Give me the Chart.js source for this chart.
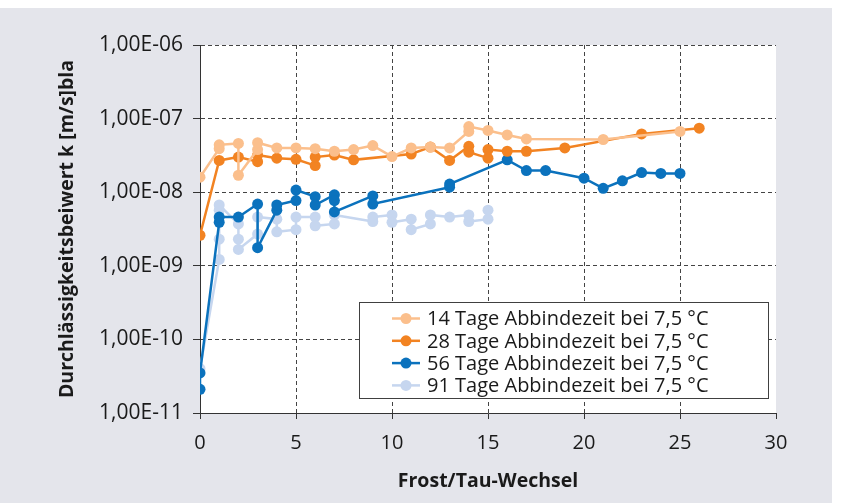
<!DOCTYPE html>
<html>
<head>
<meta charset="utf-8">
<script src="https://cdn.jsdelivr.net/npm/chart.js@4.4.1/dist/chart.umd.min.js"></script>
<style>
  html, body { margin: 0; padding: 0; background: #fff; }
  #wrap { width: 846px; height: 503px; }
</style>
</head>
<body>
<div id="wrap"><canvas id="chartFrostTau" width="846" height="503"></canvas></div>
<script>
// Durchlässigkeit nach Frost/Tau-Wechseln, je Abbindezeit
const seriesLabels = [
  '14 Tage Abbindezeit bei 7,5 °C',
  '28 Tage Abbindezeit bei 7,5 °C',
  '56 Tage Abbindezeit bei 7,5 °C',
  '91 Tage Abbindezeit bei 7,5 °C'
]

const frost14 = [0, 1, 1, 2, 2, 3, 3, 4, 5, 6, 7, 8, 9, 10, 11, 12, 13, 14, 14, 15, 16, 17, 21, 25]
const k14 = [1.6e-8, 3.9e-8, 4.4e-8, 4.6e-8, 1.7e-8, 3.8e-8, 4.7e-8, 4.0e-8, 4.0e-8, 3.9e-8, 3.6e-8, 3.8e-8,
             4.3e-8, 3.05e-8, 4.0e-8, 4.1e-8, 4.0e-8, 6.7e-8, 7.8e-8, 6.9e-8, 6.0e-8, 5.3e-8, 5.2e-8, 6.7e-8]

const frost28 = [0, 1, 2, 3, 3, 4, 5, 6, 6, 7, 8, 11, 12, 13, 14, 14, 15, 15, 16, 17, 19, 23, 26]
const k28 = [2.6e-9, 2.7e-8, 3.0e-8, 2.6e-8, 3.2e-8, 2.9e-8, 2.8e-8, 2.3e-8, 3.0e-8, 3.2e-8, 2.75e-8, 3.3e-8,
             4.1e-8, 2.7e-8, 4.2e-8, 3.5e-8, 2.9e-8, 3.8e-8, 3.6e-8, 3.6e-8, 4.0e-8, 6.2e-8, 7.4e-8]

const frost56 = [0, 0, 1, 1, 2, 3, 3, 4, 4, 5, 5, 6, 6, 7, 7, 7, 9, 9, 13, 13, 16, 17, 18, 20, 21, 22, 23, 24, 25]
const k56 = [2.1e-11, 3.5e-11, 3.9e-9, 4.6e-9, 4.6e-9, 6.9e-9, 1.76e-9, 5.7e-9, 6.7e-9, 7.7e-9, 1.07e-8, 8.7e-9,
             6.7e-9, 9.2e-9, 7.7e-9, 5.4e-9, 8.9e-9, 6.9e-9, 1.17e-8, 1.29e-8, 2.75e-8, 1.97e-8, 1.97e-8, 1.55e-8,
             1.13e-8, 1.43e-8, 1.85e-8, 1.8e-8, 1.8e-8]

const frost91 = [0, 1, 1, 1, 1, 2, 2, 2, 3, 3, 4, 4, 5, 5, 6, 6, 7, 7, 9, 9, 10, 10, 11, 11, 12, 12, 13, 14, 14, 15, 15]
const k91 = [4.0e-11, 1.22e-9, 2.3e-9, 5.7e-9, 6.7e-9, 3.7e-9, 2.3e-9, 1.67e-9, 2.7e-9, 4.6e-9, 4.3e-9, 2.9e-9,
             3.1e-9, 4.6e-9, 4.6e-9, 3.5e-9, 3.7e-9, 4.9e-9, 4.0e-9, 4.6e-9, 4.9e-9, 3.9e-9, 4.3e-9, 3.1e-9,
             3.7e-9, 4.9e-9, 4.6e-9, 4.9e-9, 4.0e-9, 4.3e-9, 5.7e-9]

const yDecades = [1e-11, 1e-10, 1e-9, 1e-8, 1e-7, 1e-6]

const colors = ['#fbbf8c', '#f28322', '#0b72bd', '#c6d6ef']
const textColor = '#1a1a1a'
const gridColor = '#444444'

Chart.defaults.font.family = "'Open Sans', 'Noto Sans', sans-serif"
Chart.defaults.color = textColor

function toPoints(xs, ys) {
  return xs.map((x, i) => ({ x: x, y: ys[i] }))
}

function excelSci(v) {
  const e = Math.floor(Math.log10(v) + 1e-9)
  const m = (v / Math.pow(10, e)).toFixed(2).replace('.', ',')
  const sign = e < 0 ? '-' : '+'
  return m + 'E' + sign + String(Math.abs(e)).padStart(2, '0')
}

const pairs = [[frost14, k14], [frost28, k28], [frost56, k56], [frost91, k91]]
const datasets = pairs.map(function(p, i) {
  return {
    label: seriesLabels[i],
    data: toPoints(p[0], p[1]),
    showLine: true,
    borderColor: colors[i],
    backgroundColor: colors[i],
    borderWidth: 2.5,
    pointRadius: 5.5,
    pointBorderWidth: 0,
    pointHoverRadius: 5.5,
    tension: 0
  }
})

// grauer Hintergrund, weisse Zeichenflaeche
const backdrop = {
  id: 'backdrop',
  beforeDraw(chart) {
    const ctx = chart.ctx
    const a = chart.chartArea
    ctx.save()
    ctx.fillStyle = '#ffffff'
    ctx.fillRect(0, 0, chart.width, chart.height)
    ctx.fillStyle = '#e4e5eb'
    ctx.fillRect(0, 8, 832, chart.height - 8)
    ctx.fillStyle = '#ffffff'
    ctx.fillRect(a.left, a.top, a.right - a.left, a.bottom - a.top)
    ctx.restore()
  }
}

// Legende im Diagramm, wie im Original
const boxLegend = {
  id: 'boxLegend',
  afterDatasetsDraw(chart) {
    const ctx = chart.ctx
    ctx.save()
    ctx.fillStyle = '#ffffff'
    ctx.fillRect(359, 302, 409, 96)
    ctx.strokeStyle = '#404040'
    ctx.lineWidth = 1
    ctx.strokeRect(359.5, 302.5, 409, 96)
    chart.data.datasets.forEach(function(ds, i) {
      const y = 318.5 + i * 22.3
      ctx.strokeStyle = ds.borderColor
      ctx.lineWidth = 2.5
      ctx.beginPath()
      ctx.moveTo(392, y)
      ctx.lineTo(420, y)
      ctx.stroke()
      ctx.fillStyle = ds.backgroundColor
      ctx.beginPath()
      ctx.arc(406, y, 5.5, 0, Math.PI * 2)
      ctx.fill()
      ctx.fillStyle = textColor
      ctx.font = "20px 'Open Sans', 'Noto Sans', sans-serif"
      ctx.textBaseline = 'middle'
      ctx.textAlign = 'left'
      ctx.fillText(ds.label, 427, y + 1)
    })
    ctx.restore()
  }
}

new Chart(document.getElementById('chartFrostTau'), {
  type: 'scatter',
  data: { datasets: datasets },
  plugins: [backdrop, boxLegend],
  options: {
    responsive: false,
    animation: false,
    devicePixelRatio: 1,
    layout: { padding: { top: 45, right: 70, left: 0, bottom: 0 } },
    plugins: {
      legend: { display: false },
      tooltip: { enabled: false }
    },
    scales: {
      x: {
        type: 'linear',
        min: 0,
        max: 30,
        ticks: { stepSize: 5, padding: 12, font: { size: 20 }, color: textColor },
        grid: {
          color: ctx => (ctx.tick && ctx.tick.value > 0 && ctx.tick.value < 30) ? gridColor : 'rgba(0,0,0,0)',
          tickColor: '#333333',
          tickLength: 6,
          tickBorderDash: []
        },
        border: { display: true, color: '#333333', width: 1, dash: [4, 3] },
        title: {
          display: true,
          text: 'Frost/Tau-Wechsel',
          font: { size: 19.5, weight: 'bold' },
          color: textColor,
          padding: { top: 10, bottom: 10 }
        },
        afterFit(scale) { scale.height = 90 }
      },
      y: {
        type: 'logarithmic',
        min: 1e-11,
        max: 1e-6,
        afterBuildTicks(scale) {
          scale.ticks = yDecades.map(v => ({ value: v }))
        },
        ticks: {
          padding: 10,
          font: { size: 21 },
          color: textColor,
          callback: v => excelSci(v)
        },
        grid: {
          color: ctx => (ctx.tick && ctx.tick.value > 1.5e-11) ? gridColor : 'rgba(0,0,0,0)',
          tickColor: '#333333',
          tickLength: 7,
          tickBorderDash: []
        },
        border: { display: true, color: '#333333', width: 1, dash: [4, 3] },
        title: {
          display: true,
          text: 'Durchlässigkeitsbeiwert k [m/s]bla',
          font: { size: 19.5, weight: 'bold' },
          color: textColor,
          padding: { top: 56, bottom: 0 }
        },
        afterFit(scale) { scale.width = 200 }
      }
    }
  }
})
</script>
</body>
</html>
